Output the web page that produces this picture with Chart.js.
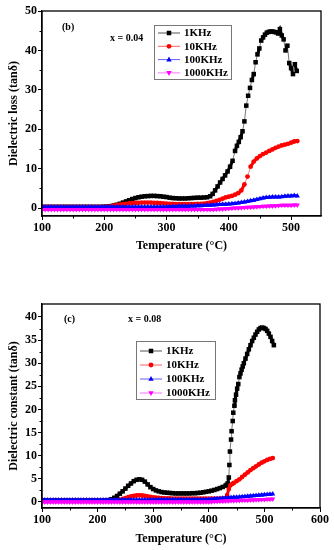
<!DOCTYPE html>
<html><head><meta charset="utf-8">
<script src="https://cdn.jsdelivr.net/npm/chart.js@4.4.1/dist/chart.umd.min.js"></script>
<style>
html,body{margin:0;padding:0;background:#fff;}
.wrap{position:relative;width:334px;height:275px;}
canvas{display:block;}
</style></head><body>
<div class="wrap"><canvas id="c1" width="334" height="275"></canvas></div>
<div class="wrap"><canvas id="c2" width="334" height="275"></canvas></div>
<script>
// ---------- DATA: panel (b), x = 0.04, dielectric loss ----------
const seriesLabels = ['1KHz', '10KHz', '100KHz', '1000KHz'];

const tempB_1k = [100,105,110,115,120,125,130,135,140,145,150,155,160,165,170,175,180,185,190,195,200,205,210,215,220,225,230,235,240,245,250,255,260,265,270,275,280,285,290,295,300,305,310,315,320,325,330,335,340,345,350,355,360,365,370,
374,378,382,386,390,394,398,402,406,410,413,416,419,422,425,428,431,434,437,440,443,446,449,452,455,458,461,464,467,470,473,476,479,482,485,488,491,494,497,500,503,506,509];
const lossB_1k = [0.3,0.3,0.3,0.3,0.3,0.3,0.3,0.3,0.3,0.3,0.3,0.3,0.3,0.3,0.3,0.3,0.3,0.3,0.3,0.3,
0.35,0.4,0.5,0.65,0.85,1.1,1.4,1.7,2.0,2.3,2.55,2.75,2.9,3.0,3.05,3.1,3.1,3.05,3.0,2.9,2.8,2.65,2.55,2.5,2.45,2.45,2.45,2.5,2.55,2.6,2.65,2.65,2.7,2.75,3.0,
3.6,4.5,5.5,6.5,7.4,8.3,9.3,10.5,12.0,14.5,15.8,16.8,18.0,19.5,22.0,26.0,28.5,30.5,32.5,34.0,37.0,39.0,40.5,42.5,43.3,44.0,44.5,44.7,44.8,44.8,44.7,44.6,44.3,45.4,43.8,42.8,40.0,41.2,36.8,35.5,34.0,36.5,34.8];

const tempB = [100,105,110,115,120,125,130,135,140,145,150,155,160,165,170,175,180,185,190,195,200,205,210,215,220,225,230,235,240,245,250,255,260,265,270,275,280,285,290,295,300,305,310,315,320,325,330,335,340,345,350,355,360,365,370,375,380,385,390,395,400,405,410,415,420,425,430,435,440,445,450,455,460,465,470,475,480,485,490,495,500,505,510];
const lossB_10k = [0.3,0.3,0.3,0.3,0.3,0.3,0.3,0.3,0.3,0.3,0.3,0.3,0.3,0.3,0.3,0.3,0.3,0.3,0.3,0.3,0.3,0.3,
0.45,0.6,0.75,0.9,1.0,1.1,1.2,1.25,1.3,1.35,1.4,1.4,1.4,1.4,1.35,1.3,1.25,1.2,1.15,1.1,1.05,1.0,1.0,1.0,1.0,1.0,1.0,1.0,1.05,1.1,1.15,1.25,1.4,1.6,1.8,2.1,2.4,2.7,2.9,3.1,3.4,3.8,4.5,6.0,8.0,10.5,11.8,12.6,13.2,13.7,14.1,14.5,14.9,15.3,15.6,15.9,16.1,16.3,16.6,16.9,17.0];
const lossB_100k = [0.3,0.3,0.3,0.3,0.3,0.3,0.3,0.3,0.3,0.3,0.3,0.3,0.3,0.3,0.3,0.3,0.3,0.3,0.3,0.3,0.3,0.3,0.3,0.3,0.3,0.3,0.3,0.3,0.3,0.3,0.3,0.3,0.3,0.3,0.3,0.3,0.3,0.3,0.3,0.3,0.3,
0.35,0.4,0.4,0.45,0.45,0.5,0.5,0.55,0.55,0.6,0.6,0.65,0.7,0.75,0.8,0.85,0.9,0.95,1.0,1.05,1.1,1.2,1.3,1.4,1.55,1.7,1.85,2.0,2.2,2.4,2.55,2.7,2.75,2.8,2.8,2.85,2.9,3.0,3.05,3.1,3.2,3.1];
const lossB_1000k = [-0.35,-0.35,-0.35,-0.35,-0.35,-0.35,-0.35,-0.35,-0.35,-0.35,-0.35,-0.35,-0.35,-0.35,-0.35,-0.35,-0.35,-0.35,-0.35,-0.35,-0.35,-0.35,-0.35,-0.35,-0.35,-0.35,-0.35,-0.35,-0.35,-0.35,-0.35,-0.35,-0.35,-0.35,-0.35,-0.35,-0.35,-0.35,-0.35,-0.35,-0.35,-0.35,-0.35,-0.35,-0.35,-0.35,-0.35,-0.35,-0.35,-0.35,-0.35,-0.35,-0.35,-0.35,-0.35,-0.35,-0.3,
-0.25,-0.2,-0.15,-0.1,-0.05,0.0,0.05,0.1,0.15,0.2,0.25,0.3,0.35,0.4,0.45,0.5,0.55,0.55,0.6,0.65,0.7,0.7,0.75,0.75,0.8,0.8];

const xTicksB = [100,200,300,400,500];
const xMinorB = [150,250,350,450];
const yTicksB = [0,10,20,30,40,50];
const yMinorB = [5,15,25,35,45];

// ---------- DATA: panel (c), x = 0.08 ----------
const tempC_1k = [100,105,110,115,120,125,130,135,140,145,150,155,160,165,170,175,180,185,190,195,200,205,210,215,220,225,230,235,240,245,250,255,260,265,270,275,280,285,290,295,300,305,310,315,320,325,330,335,340,345,350,355,360,365,370,375,380,385,390,395,400,405,410,415,420,425,430,
432,434,436,437,438,440,441,443,444,446,447,449,451,453,455,457,459,461,463,466,469,472,475,478,481,484,487,490,493,496,499,502,505,508,511,514,517];
const constC_1k = [0.3,0.3,0.3,0.3,0.3,0.3,0.3,0.3,0.3,0.3,0.3,0.3,0.3,0.3,0.3,0.3,0.3,0.3,0.3,0.3,0.3,0.3,0.3,0.3,
0.4,0.6,0.9,1.3,1.8,2.3,2.9,3.5,4.0,4.5,4.8,4.9,4.8,4.4,3.8,3.2,2.8,2.5,2.3,2.15,2.05,2.0,1.95,1.9,1.85,1.85,1.85,1.85,1.85,1.85,1.9,1.9,1.95,2.0,2.1,2.2,2.3,2.45,2.6,2.8,3.0,3.25,3.5,
3.7,4.0,5.3,8.0,10.9,13.5,15.3,17.5,19.3,20.8,22.0,23.2,24.5,25.5,27.0,27.8,28.6,29.3,30.0,31.0,32.0,33.0,33.9,34.8,35.5,36.2,36.8,37.3,37.6,37.7,37.6,37.4,37.0,36.4,35.7,34.8,33.9];

const tempC_10k = [100,105,110,115,120,125,130,135,140,145,150,155,160,165,170,175,180,185,190,195,200,205,210,215,220,225,230,235,240,245,250,255,260,265,270,275,280,285,290,295,300,305,310,315,320,325,330,335,340,345,350,355,360,365,370,375,380,385,390,395,400,405,410,415,420,425,430,
433,436,439,442,445,450,455,460,465,470,475,480,485,490,495,500,505,510,515];
const constC_10k = [0.3,0.3,0.3,0.3,0.3,0.3,0.3,0.3,0.3,0.3,0.3,0.3,0.3,0.3,0.3,0.3,0.3,0.3,0.3,0.3,0.3,0.3,0.3,0.3,0.3,0.3,0.3,0.3,
0.45,0.65,0.85,1.05,1.2,1.3,1.4,1.45,1.4,1.3,1.2,1.1,1.0,0.95,0.9,0.85,0.8,
0.75,0.75,0.7,0.7,0.7,0.7,0.7,0.7,0.7,0.7,0.7,0.7,0.7,0.7,0.7,0.7,0.7,0.7,0.7,0.7,0.75,0.8,
1.5,2.8,3.6,3.9,4.1,4.5,4.9,5.4,5.9,6.4,6.9,7.3,7.7,8.1,8.5,8.8,9.1,9.3,9.5];

const tempC = [100,105,110,115,120,125,130,135,140,145,150,155,160,165,170,175,180,185,190,195,200,205,210,215,220,225,230,235,240,245,250,255,260,265,270,275,280,285,290,295,300,305,310,315,320,325,330,335,340,345,350,355,360,365,370,375,380,385,390,395,400,405,410,415,420,425,430,435,440,445,450,455,460,465,470,475,480,485,490,495,500,505,510,515];
const constC_100k = [0.45,0.45,0.45,0.45,0.45,0.45,0.45,0.45,0.45,0.45,0.45,0.45,0.45,0.45,0.45,0.45,0.45,0.45,0.45,0.45,0.45,0.45,0.45,0.45,0.45,0.45,0.45,0.45,0.45,0.45,0.45,0.45,0.45,0.45,0.45,0.45,0.45,0.45,0.45,0.45,0.45,
0.5,0.5,0.5,0.5,0.5,0.5,0.5,0.5,0.5,0.5,0.5,0.5,0.5,0.5,0.5,0.5,0.5,0.5,0.55,0.55,
0.6,0.65,0.7,0.75,0.8,0.85,0.9,0.95,1.0,1.05,1.1,1.15,1.2,1.25,1.3,1.35,1.4,1.45,1.5,1.55,1.6,1.65,1.7];
const constC_1000k = [0.0,0.0,0.0,0.0,0.0,0.0,0.0,0.0,0.0,0.0,0.0,0.0,0.0,0.0,0.0,0.0,0.0,0.0,0.0,0.0,0.0,0.0,0.0,0.0,0.0,0.0,0.0,0.0,0.0,0.0,0.0,0.0,0.0,0.0,0.0,0.0,0.0,0.0,0.0,0.0,0.0,0.0,0.0,0.0,0.0,0.0,0.0,0.0,0.0,0.0,0.0,0.0,0.0,0.0,0.0,0.0,0.0,0.0,0.0,0.0,0.0,
0.05,0.1,0.12,0.15,0.18,0.2,0.22,0.25,0.28,0.3,0.32,0.35,0.38,0.4,0.42,0.45,0.48,0.5,0.52,0.55,0.58,0.6,0.62];

const xTicksC = [100,200,300,400,500,600];
const xMinorC = [150,250,350,450,550];
const yTicksC = [0,5,10,15,20,25,30,35,40];
const yMinorC = [2.5,7.5,12.5,17.5,22.5,27.5,32.5,37.5];

// ---------- STYLE ----------
const FONT = "'Liberation Serif','Times New Roman',serif";
const colors = ['#000000', '#ff0000', '#0000ff', '#ff00ff'];
const lineColors = ['#555555', '#ff6060', '#6060ff', '#ff70ff'];
const styles = ['rect', 'circle', 'triangle', 'triangle'];
const rotations = [0, 0, 0, 180];
const radii = [3.2, 2.4, 3.0, 3.0];

function pts(t, v) { return t.map((x, i) => ({x: x, y: v[i]})); }

function drawMarker(ctx, style, x, y, r, rot, color) {
  ctx.save();
  ctx.fillStyle = color;
  ctx.translate(x, y);
  ctx.rotate(rot * Math.PI / 180);
  ctx.beginPath();
  if (style === 'rect') {
    const s = r * Math.SQRT1_2;
    ctx.rect(-s, -s, 2 * s, 2 * s);
  } else if (style === 'circle') {
    ctx.arc(0, 0, r, 0, Math.PI * 2);
  } else {
    ctx.moveTo(0, -r);
    ctx.lineTo(r * 0.9, r * 0.6);
    ctx.lineTo(-r * 0.9, r * 0.6);
    ctx.closePath();
  }
  ctx.fill();
  ctx.restore();
}

const decorPlugin = {
  id: 'decor',
  afterDraw(chart, args, opts) {
    const ctx = chart.ctx;
    const a = chart.chartArea;
    const xs = chart.scales.x, ys = chart.scales.y;
    ctx.save();
    ctx.strokeStyle = '#000';
    ctx.lineWidth = 1.3;
    ctx.strokeRect(a.left, a.top, a.right - a.left, a.bottom - a.top);
    ctx.lineWidth = 1;
    ctx.beginPath();
    opts.xMinor.forEach(v => {
      if (v < xs.min || v > xs.max) return;
      const px = Math.round(xs.getPixelForValue(v)) + 0.5;
      ctx.moveTo(px, a.bottom); ctx.lineTo(px, a.bottom + 2.5);
    });
    opts.yMinor.forEach(v => {
      const py = Math.round(ys.getPixelForValue(v)) + 0.5;
      ctx.moveTo(a.left, py); ctx.lineTo(a.left - 2.5, py);
    });
    ctx.stroke();
    ctx.fillStyle = '#000';
    ctx.textBaseline = 'middle';
    ctx.textAlign = 'left';
    ctx.font = 'bold 10px ' + FONT;
    opts.notes.forEach(n => ctx.fillText(n.text, n.x, n.y));
    const L = opts.legend;
    ctx.strokeStyle = '#777';
    ctx.lineWidth = 1;
    ctx.strokeRect(L.x + 0.5, L.y + 0.5, L.w, L.h);
    ctx.font = 'bold 11px ' + FONT;
    chart.data.datasets.forEach((ds, i) => {
      const cy = L.y + L.first + i * L.step;
      ctx.strokeStyle = lineColors[i];
      ctx.lineWidth = 1;
      ctx.beginPath();
      ctx.moveTo(L.x + 4, cy); ctx.lineTo(L.x + 26, cy);
      ctx.stroke();
      drawMarker(ctx, styles[i], L.x + 15, cy, radii[i], rotations[i], colors[i]);
      ctx.fillStyle = '#000';
      ctx.fillText(ds.label, L.x + 30, cy + 0.5);
    });
    ctx.restore();
  }
};

function segLen(c) { return Math.hypot(c.p1.x - c.p0.x, c.p1.y - c.p0.y); }

function makeChart(id, sets, xr, yr, xTicks, yTicks, xMinor, yMinor, ytitle, pad, xH, xTitlePad, legend, notes) {
  const datasets = sets.map((s, i) => ({
    label: seriesLabels[i],
    data: pts(s[0], s[1]),
    showLine: true,
    borderColor: colors[i],
    borderWidth: 3,
    segment: {
      borderWidth: c => segLen(c) > 7 ? 0.8 : 3,
      borderColor: c => segLen(c) > 7 ? lineColors[i] : colors[i]
    },
    backgroundColor: colors[i],
    pointBackgroundColor: colors[i],
    pointBorderWidth: 0,
    pointStyle: styles[i],
    pointRotation: rotations[i],
    pointRadius: radii[i],
    order: 3 - i
  }));
  return new Chart(document.getElementById(id), {
    type: 'scatter',
    data: {datasets},
    options: {
      responsive: false, animation: false, devicePixelRatio: 1,
      layout: {padding: pad},
      plugins: {
        legend: {display: false}, tooltip: {enabled: false},
        decor: {xMinor, yMinor, legend, notes}
      },
      scales: {
        x: {
          type: 'linear', min: xr[0], max: xr[1],
          afterBuildTicks: s => { s.ticks = xTicks.map(v => ({value: v})); },
          afterFit: s => { s.height = xH; },
          ticks: {color: '#000', font: {family: FONT, size: 12, weight: 'bold'}, padding: 1, maxRotation: 0, autoSkip: false},
          grid: {drawOnChartArea: false, drawTicks: true, tickLength: 4, color: '#000', lineWidth: 1},
          border: {display: true, color: '#000', width: 1.3},
          title: {display: true, text: 'Temperature (°C)', color: '#000', font: {family: FONT, size: 12, weight: 'bold'}, padding: {top: 0, bottom: xTitlePad}}
        },
        y: {
          type: 'linear', min: yr[0], max: yr[1],
          afterBuildTicks: s => { s.ticks = yTicks.map(v => ({value: v})); },
          afterFit: s => { s.width = 42; },
          ticks: {color: '#000', font: {family: FONT, size: 12, weight: 'bold'}, padding: 1, autoSkip: false},
          grid: {drawOnChartArea: false, drawTicks: true, tickLength: 4, color: '#000', lineWidth: 1},
          border: {display: true, color: '#000', width: 1.3},
          title: {display: true, text: ytitle, color: '#000', font: {family: FONT, size: 12, weight: 'bold'}, padding: {top: 7, bottom: 0}}
        }
      }
    },
    plugins: [decorPlugin]
  });
}

makeChart('c1',
  [[tempB_1k, lossB_1k], [tempB, lossB_10k], [tempB, lossB_100k], [tempB, lossB_1000k]],
  [100, 548], [-2, 50], xTicksB, yTicksB, xMinorB, yMinorB,
  'Dielectric loss (tanδ)',
  {top: 11, right: 13, left: 0, bottom: 14}, 45, 8,
  {x: 154, y: 25, w: 77, h: 54, first: 8, step: 13.3},
  [{text: '(b)', x: 62, y: 27}, {text: 'x = 0.04', x: 110, y: 38}]
);

makeChart('c2',
  [[tempC_1k, constC_1k], [tempC_10k, constC_10k], [tempC, constC_100k], [tempC, constC_1000k]],
  [100, 600], [-1.3, 42.8], xTicksC, yTicksC, xMinorC, yMinorC,
  'Dielectric constant (tanδ)',
  {top: 29, right: 14, left: 0, bottom: 0}, 42, 4,
  {x: 136, y: 66, w: 79, h: 58, first: 10, step: 14},
  [{text: '(c)', x: 64, y: 44}, {text: 'x = 0.08', x: 128, y: 44}]
);
</script>
</body></html>
